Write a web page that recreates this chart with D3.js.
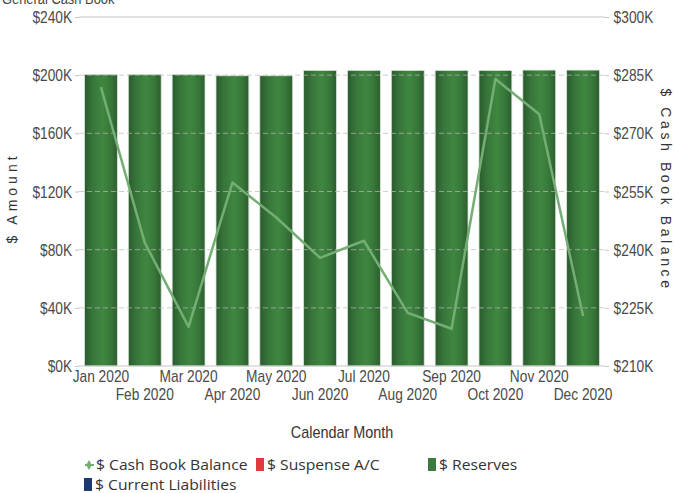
<!DOCTYPE html>
<html>
<head>
<meta charset="utf-8">
<script src="https://cdn.jsdelivr.net/npm/d3@7"></script>
<style>
  html, body { margin: 0; padding: 0; background: #fff; overflow: hidden; }
  svg { display: block; }
  .tick text { font-family: "Liberation Sans", Arial, sans-serif; font-size: 16px; fill: #4a4a4a; }
</style>
</head>
<body>
<svg id="chart" width="675" height="493"></svg>
<script>
// ── data ──
const months = ["Jan 2020","Feb 2020","Mar 2020","Apr 2020","May 2020","Jun 2020",
                "Jul 2020","Aug 2020","Sep 2020","Oct 2020","Nov 2020","Dec 2020"];
const reserves      = [200500, 200500, 200500, 199600, 199600, 203300, 203300, 203300, 203300, 203300, 203500, 203500];
const suspense      = [0, 0, 0, 0, 0, 0, 0, 0, 0, 0, 0, 0];
const liabilities   = [0, 0, 0, 0, 0, 0, 0, 0, 0, 0, 0, 0];
const cashBook      = [281900, 241800, 220100, 257300, 248300, 237900, 242300, 223700, 219600, 284000, 274900, 222900];
const leftTicks     = [0, 40000, 80000, 120000, 160000, 200000, 240000];
const rightTicks    = [210000, 225000, 240000, 255000, 270000, 285000, 300000];

const svg = d3.select("#chart");
const plot = { left: 79, right: 605, top: 17, bottom: 366 };
const narrow = 0.86; // horizontal squeeze to mimic a condensed face

const x = d3.scaleBand().domain(months).range([plot.left, plot.right]).paddingInner(0.25).paddingOuter(0.125);
const yL = d3.scaleLinear().domain([0, 240000]).range([plot.bottom, plot.top]);
const yR = d3.scaleLinear().domain([210000, 300000]).range([plot.bottom, plot.top]);
const kfmt = d => `$${d / 1000}K`;

// bar gradient (dark edges, lighter middle)
const defs = svg.append("defs");
const grad = defs.append("linearGradient").attr("id", "barGrad").attr("x1", 0).attr("x2", 1).attr("y1", 0).attr("y2", 0);
[[0, "#2b5a2e"], [0.25, "#37763a"], [0.55, "#3f8740"], [0.8, "#377739"], [1, "#2c5d2f"]]
  .forEach(([o, c]) => grad.append("stop").attr("offset", o).attr("stop-color", c));

// title (cut off at top of frame, as in the source)
svg.append("text").attr("transform", `translate(2,4) scale(${narrow},1)`)
  .attr("font-family", "Liberation Sans, sans-serif").attr("font-size", 15).attr("fill", "#444")
  .text("General Cash Book");

// bars: stacked reserves / suspense / liabilities
const rows = months.map((m, i) => ({ m, reserves: reserves[i], suspense: suspense[i], liabilities: liabilities[i] }));
const stack = d3.stack().keys(["reserves", "suspense", "liabilities"])(rows);
const fills = { reserves: "url(#barGrad)", suspense: "#e0393e", liabilities: "#1c3a6b" };

svg.append("g").selectAll("g").data(stack).join("g")
  .attr("fill", s => fills[s.key])
  .selectAll("rect").data(s => s).join("rect")
  .attr("x", d => x(d.data.m))
  .attr("width", x.bandwidth())
  .attr("y", d => yL(d[1]))
  .attr("height", d => Math.max(0, yL(d[0]) - yL(d[1])))
  .attr("stroke", "#d9e6d9").attr("stroke-width", 0.8);

// gridlines on top (faint, dashed)
svg.append("g").selectAll("line").data(leftTicks.slice(1, -1)).join("line")
  .attr("x1", plot.left).attr("x2", plot.right)
  .attr("y1", d => yL(d)).attr("y2", d => yL(d))
  .attr("stroke", "#b9b9b9").attr("stroke-opacity", 0.7).attr("stroke-dasharray", "5,3");
svg.append("line").attr("x1", plot.left).attr("x2", plot.right)
  .attr("y1", yL(240000)).attr("y2", yL(240000)).attr("stroke", "#c4c4c4");
svg.append("line").attr("x1", plot.left).attr("x2", plot.right)
  .attr("y1", yL(0)).attr("y2", yL(0)).attr("stroke", "#c4c4c4");

// cash book line (right axis)
svg.append("path").datum(cashBook)
  .attr("fill", "none").attr("stroke", "#74ae74").attr("stroke-width", 2.5).attr("stroke-linejoin", "round")
  .attr("d", d3.line().x((d, i) => x(months[i]) + x.bandwidth() / 2).y(d => yR(d)));

// axes
const left = svg.append("g").attr("transform", `translate(${plot.left},0)`)
  .call(d3.axisLeft(yL).tickValues(leftTicks).tickFormat(kfmt).tickSize(4).tickPadding(4));
const right = svg.append("g").attr("transform", `translate(${plot.right},0)`)
  .call(d3.axisRight(yR).tickValues(rightTicks).tickFormat(kfmt).tickSize(4).tickPadding(6));
const bottom = svg.append("g").attr("transform", `translate(0,${plot.bottom})`)
  .call(d3.axisBottom(x).tickSize(0).tickPadding(4));
[left, right, bottom].forEach(a => { a.select(".domain").remove(); a.selectAll(".tick line").attr("stroke", "#c4c4c4"); });
left.selectAll(".tick text").attr("dy", "0.35em").attr("transform", `scale(${narrow},1)`);
right.selectAll(".tick text").attr("dy", "0.35em").attr("transform", `scale(${narrow},1)`);
bottom.selectAll(".tick text").attr("dy", (d, i) => i % 2 ? "1.9em" : "0.75em").attr("transform", `scale(${narrow},1)`);

// axis titles
svg.append("text").attr("transform", `translate(342,438) scale(0.9,1)`).attr("text-anchor", "middle")
  .attr("font-family", "Liberation Sans, sans-serif").attr("font-size", 16).attr("fill", "#333")
  .text("Calendar Month");
svg.append("text").attr("transform", "translate(17,198) rotate(-90)").attr("text-anchor", "middle")
  .attr("font-family", "Liberation Sans, sans-serif").attr("font-size", 14).attr("letter-spacing", 4).attr("fill", "#333")
  .text("$ Amount");
svg.append("text").attr("transform", "translate(661,190) rotate(90)").attr("text-anchor", "middle")
  .attr("font-family", "Liberation Sans, sans-serif").attr("font-size", 14).attr("letter-spacing", 3.6).attr("fill", "#333")
  .text("$ Cash Book Balance");

// legend
const lg = svg.append("g").attr("font-family", "Open Sans, sans-serif").attr("font-size", 14).attr("fill", "#333");
const wide = s => `scale(1.12,1)`;
lg.append("line").attr("x1", 85).attr("x2", 94).attr("y1", 465).attr("y2", 465).attr("stroke", "#74ae74").attr("stroke-width", 2);
lg.append("path").attr("d", d3.symbol(d3.symbolDiamond, 28)()).attr("transform", "translate(89,465)").attr("fill", "#74ae74");
lg.append("text").attr("transform", `translate(96,470) scale(1.12,1)`).text("$ Cash Book Balance");
const swatches = [
  { label: "$ Suspense A/C", color: "#e0393e", x: 256, y: 470 },
  { label: "$ Reserves", color: "#3d7a3e", x: 428, y: 470 },
  { label: "$ Current Liabilities", color: "#1c3a6b", x: 84, y: 490 }
];
swatches.forEach(s => {
  lg.append("rect").attr("x", s.x).attr("y", s.y - 12).attr("width", 8).attr("height", 13).attr("fill", s.color);
  lg.append("text").attr("transform", `translate(${s.x + 11},${s.y}) scale(1.12,1)`).text(s.label);
});
</script>
</body>
</html>
